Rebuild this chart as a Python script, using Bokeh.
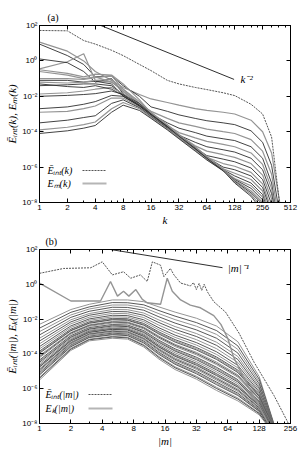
import numpy as np
from bokeh.plotting import figure
from bokeh.layouts import column
from bokeh.models import Range1d, FixedTicker, CustomJSTickFormatter, Label, Arrow, LogAxis
from bokeh.embed import file_html
from bokeh.resources import INLINE

# ---------------- Panel (a): spectra vs k (values are log10) ----------------
K_A = [1, 2, 3, 4, 6, 8, 12, 16, 24, 32, 48, 64, 96, 128, 192, 256, 320, 400, 512]
EINT_A = [1.72, 1.7, 1.15, 0.95, 0.6, 0.3, -0.2, -0.55, -1.1, -1.3, -1.5, -1.62, -1.8, -1.96, -2.45, -3.0, -4.3, -8.5, -10]
EM_A_01 = [1.06, 0.55, 0.0, -0.6, -1.1, -1.5, -1.9, -2.15, -2.35, -2.5, -2.7, -2.8, -2.9, -3.0, -3.35, -4.0, -5.2, -8.3, -10]
EM_A_02 = [0.95, 0.3, -0.2, -0.9, -0.85, -1.4, -2.0, -2.6, -2.85, -3.05, -3.25, -3.38, -3.5, -3.6, -3.95, -4.6, -5.9, -9.0, -10]
EM_A_03 = [-0.45, -0.05, 0.4, -1.1, -1.2, -1.7, -2.45, -2.85, -3.25, -3.5, -3.7, -3.85, -4.0, -4.1, -4.45, -5.1, -6.4, -9.5, -10]
EM_A_04 = [0.11, -0.1, -0.6, -1.2, -1.0, -1.85, -2.5, -3.0, -3.5, -3.8, -4.05, -4.25, -4.4, -4.5, -4.85, -5.5, -6.9, -10, -10]
EM_A_05 = [-1.0, -1.0, -1.05, -0.95, -0.85, -1.6, -2.4, -3.0, -3.65, -4.05, -4.35, -4.55, -4.72, -4.85, -5.2, -5.85, -7.2, -10, -10]
EM_A_06 = [-1.1, -1.1, -1.2, -1.15, -1.3, -2.0, -2.55, -3.05, -3.7, -4.2, -4.6, -4.85, -5.02, -5.15, -5.5, -6.15, -7.5, -10, -10]
EM_A_07 = [-1.2, -1.25, -1.2, -1.1, -1.05, -1.75, -2.45, -2.95, -3.65, -4.2, -4.8, -5.1, -5.3, -5.45, -5.8, -6.45, -7.8, -10, -10]
EM_A_08 = [-1.4, -1.35, -1.3, -1.3, -1.4, -1.9, -2.4, -3.0, -3.7, -4.2, -4.9, -5.35, -5.55, -5.7, -6.05, -6.7, -8.1, -10, -10]
EM_A_09 = [-1.87, -1.8, -1.7, -1.6, -1.5, -1.85, -2.5, -3.05, -3.75, -4.25, -4.95, -5.45, -5.8, -5.95, -6.3, -6.95, -8.4, -10, -10]
EM_A_10 = [-2.7, -2.6, -2.45, -2.3, -1.95, -2.0, -2.55, -3.1, -3.75, -4.3, -4.95, -5.45, -6.0, -6.15, -6.5, -7.15, -8.6, -10, -10]
EM_A_11 = [-2.9, -2.85, -2.7, -2.55, -2.1, -2.1, -2.6, -3.1, -3.8, -4.3, -5.0, -5.5, -6.1, -6.35, -6.7, -7.35, -8.9, -10, -10]
EM_A_12 = [-3.5, -3.35, -3.2, -3.1, -2.4, -2.2, -2.65, -3.15, -3.8, -4.35, -5.0, -5.5, -6.15, -6.5, -6.9, -7.55, -9.2, -10, -10]
EM_A_13 = [-3.9, -3.75, -3.6, -3.45, -2.7, -2.35, -2.7, -3.2, -3.85, -4.35, -5.05, -5.55, -6.2, -6.65, -7.05, -7.7, -9.5, -10, -10]
EM_A_14 = [-4.1, -3.95, -3.8, -3.65, -2.9, -2.5, -2.8, -3.25, -3.9, -4.4, -5.1, -5.6, -6.2, -6.7, -7.2, -7.85, -9.8, -10, -10]
EM_A_15 = [-0.6, -0.8, -1.0, -0.9, -1.2, -1.6, -2.3, -2.9, -3.6, -4.15, -4.85, -5.4, -6.1, -6.75, -7.35, -8.0, -10, -10, -10]
EM_A_16 = [-1.3, -1.45, -1.5, -1.4, -1.6, -1.95, -2.55, -3.05, -3.7, -4.2, -4.9, -5.45, -6.15, -6.8, -7.45, -8.1, -10, -10, -10]
EM_A_17 = [-0.5, -0.7, -0.9, -0.75, -0.8, -1.3, -2.2, -2.95, -3.65, -4.2, -4.9, -5.45, -6.15, -6.85, -7.55, -8.3, -10, -10, -10]
EM_A_18 = [-2.0, -1.95, -1.9, -1.85, -1.7, -1.9, -2.5, -3.0, -3.7, -4.25, -4.95, -5.5, -6.2, -6.9, -7.65, -8.5, -10, -10, -10]
REF_A_K = [4.6, 126]
REF_A_E = [100, 0.09]

# ---------------- Panel (b): spectra vs |m| (values are log10) ----------------
TOP_B_M = [1, 1.7, 3.1, 4, 5, 6.4, 7.5, 9.3, 10.8, 12.1, 14.5, 15.6, 18, 19.5, 22.6, 26, 28, 30, 32, 34, 36, 38, 41, 47, 61, 82, 115, 178, 240, 300]
TOP_B = [0.63, 0.91, 0.95, 1.29, 0.54, 0.72, 0.35, 0.54, 0.16, 1.29, 1.1, 0.44, 0.91, 0.54, 0.07, -0.03, -0.1, 0.1, -0.3, 0.05, -0.35, 0.0, -0.45, -1.0, -1.6, -2.8, -4.5, -6.4, -7.9, -9.5]
SEC_B_M = [1, 2, 3.85, 4.8, 5.6, 6.4, 7.2, 8.4, 9.7, 10.8, 14.5, 16.8, 18.8, 22.6, 28, 35, 47, 55, 64, 73, 85, 110, 154, 200]
SEC_B = [0.07, -0.96, -0.96, 0.16, -0.68, -0.4, -0.68, -0.3, -0.87, -1.06, -1.15, 0.35, -0.4, -0.9, -1.2, -1.35, -1.8, -2.3, -3.1, -4.2, -5.0, -6.3, -7.9, -9.5]
M_F = [1, 2, 3, 5, 7, 10, 14, 20, 32, 50, 80, 128, 200]
FAM_B_01 = [-2.30, -1.45, -1.15, -0.90, -0.90, -1.00, -1.30, -1.60, -1.95, -2.40, -3.30, -5.30, -9.0]
FAM_B_02 = [-2.52, -1.61, -1.30, -1.05, -1.06, -1.18, -1.51, -1.83, -2.20, -2.66, -3.54, -5.45, -9.0]
FAM_B_03 = [-2.72, -1.76, -1.42, -1.19, -1.19, -1.34, -1.69, -2.03, -2.41, -2.88, -3.74, -5.59, -9.0]
FAM_B_04 = [-2.91, -1.90, -1.55, -1.32, -1.33, -1.49, -1.87, -2.23, -2.62, -3.10, -3.95, -5.72, -9.0]
FAM_B_05 = [-3.10, -2.04, -1.68, -1.45, -1.46, -1.65, -2.05, -2.43, -2.83, -3.33, -4.15, -5.85, -9.0]
FAM_B_06 = [-3.26, -2.16, -1.78, -1.56, -1.58, -1.78, -2.20, -2.59, -3.00, -3.51, -4.32, -5.96, -9.0]
FAM_B_07 = [-3.42, -2.27, -1.89, -1.67, -1.69, -1.91, -2.35, -2.76, -3.18, -3.70, -4.49, -6.07, -9.0]
FAM_B_08 = [-3.58, -2.39, -1.99, -1.78, -1.80, -2.04, -2.50, -2.92, -3.35, -3.88, -4.66, -6.18, -9.0]
FAM_B_09 = [-3.71, -2.48, -2.07, -1.87, -1.89, -2.14, -2.62, -3.05, -3.49, -4.03, -4.80, -6.27, -9.0]
FAM_B_10 = [-3.84, -2.58, -2.16, -1.96, -1.98, -2.25, -2.74, -3.18, -3.63, -4.18, -4.93, -6.36, -9.0]
FAM_B_11 = [-3.96, -2.67, -2.24, -2.04, -2.07, -2.35, -2.86, -3.32, -3.77, -4.32, -5.07, -6.44, -9.0]
FAM_B_12 = [-4.09, -2.77, -2.33, -2.13, -2.16, -2.46, -2.98, -3.45, -3.91, -4.47, -5.20, -6.53, -9.0]
FAM_B_13 = [-4.22, -2.86, -2.41, -2.22, -2.25, -2.56, -3.10, -3.58, -4.05, -4.62, -5.34, -6.62, -9.0]
FAM_B_14 = [-4.35, -2.95, -2.49, -2.31, -2.34, -2.66, -3.22, -3.71, -4.19, -4.77, -5.48, -6.71, -9.0]
FAM_B_15 = [-4.48, -3.05, -2.58, -2.40, -2.43, -2.77, -3.34, -3.84, -4.33, -4.92, -5.61, -6.80, -9.0]
FAM_B_16 = [-4.57, -3.12, -2.64, -2.46, -2.50, -2.85, -3.43, -3.94, -4.44, -5.03, -5.71, -6.86, -9.0]
FAM_B_17 = [-4.67, -3.19, -2.70, -2.53, -2.57, -2.92, -3.52, -4.04, -4.54, -5.14, -5.82, -6.93, -9.0]
FAM_B_18 = [-4.76, -3.26, -2.77, -2.59, -2.63, -3.00, -3.61, -4.14, -4.65, -5.25, -5.92, -6.99, -9.0]
FAM_B_19 = [-4.86, -3.33, -2.83, -2.66, -2.70, -3.08, -3.70, -4.24, -4.75, -5.36, -6.02, -7.06, -9.0]
FAM_B_20 = [-4.99, -3.42, -2.91, -2.75, -2.79, -3.18, -3.82, -4.37, -4.89, -5.51, -6.16, -7.15, -9.0]
FAM_B_21 = [-5.08, -3.49, -2.98, -2.81, -2.86, -3.26, -3.91, -4.47, -5.00, -5.62, -6.26, -7.21, -9.0]
FAM_B_22 = [-5.21, -3.59, -3.06, -2.90, -2.95, -3.37, -4.03, -4.60, -5.14, -5.77, -6.39, -7.30, -9.0]
FAM_B_23 = [-5.34, -3.68, -3.15, -2.99, -3.04, -3.47, -4.15, -4.74, -5.28, -5.92, -6.53, -7.39, -9.0]
FAM_B_24 = [-5.50, -3.80, -3.25, -3.10, -3.15, -3.60, -4.30, -4.90, -5.45, -6.10, -6.70, -7.50, -9.0]
FAM_B_25 = [-3.90, -2.63, -2.20, -2.00, -2.03, -2.30, -2.80, -3.25, -3.70, -4.25, -5.00, -6.40, -9.0]
FAM_B_26 = [-4.16, -2.81, -2.37, -2.18, -2.21, -2.51, -3.04, -3.51, -3.98, -4.55, -5.27, -6.58, -9.0]
FAM_B_27 = [-4.41, -3.00, -2.54, -2.35, -2.39, -2.72, -3.28, -3.78, -4.26, -4.84, -5.54, -6.75, -9.0]
FAM_B_28 = [-4.72, -3.22, -2.74, -2.56, -2.60, -2.96, -3.57, -4.09, -4.59, -5.19, -5.87, -6.96, -9.0]
FAM_B_29 = [-4.92, -3.38, -2.87, -2.70, -2.75, -3.13, -3.76, -4.31, -4.82, -5.43, -6.09, -7.10, -9.0]
FAM_B_30 = [-5.15, -3.54, -3.02, -2.86, -2.90, -3.31, -3.97, -4.54, -5.07, -5.69, -6.33, -7.26, -9.0]
FAM_B_31 = [-5.40, -3.73, -3.19, -3.03, -3.08, -3.52, -4.21, -4.80, -5.35, -5.99, -6.60, -7.43, -9.0]
REF_B_M = [4.8, 57]
REF_B_E = [100, 9.0]

# tick values
X_TICKS_A = [1, 2, 4, 8, 16, 32, 64, 128, 256, 512]
X_MINOR_A = [3, 5, 6, 7, 10, 12, 14, 20, 24, 28, 40, 48, 56, 80, 96, 112, 160, 192, 224, 320, 384, 448]
X_TICKS_B = [1, 2, 4, 8, 16, 32, 64, 128, 256]
X_MINOR_B = [3, 5, 6, 7, 10, 12, 14, 20, 24, 28, 40, 48, 56, 80, 96, 112, 160, 192, 224]
Y_TICKS = [1e-8, 1e-6, 1e-4, 1e-2, 1, 1e2]

EM_A = [EM_A_01, EM_A_02, EM_A_03, EM_A_04, EM_A_05, EM_A_06, EM_A_07, EM_A_08, EM_A_09,
        EM_A_10, EM_A_11, EM_A_12, EM_A_13, EM_A_14, EM_A_15, EM_A_16, EM_A_17, EM_A_18]
FAM_B = [FAM_B_01, FAM_B_02, FAM_B_03, FAM_B_04, FAM_B_05, FAM_B_06, FAM_B_07, FAM_B_08,
         FAM_B_09, FAM_B_10, FAM_B_25, FAM_B_11, FAM_B_12, FAM_B_26, FAM_B_13, FAM_B_14,
         FAM_B_27, FAM_B_15, FAM_B_16, FAM_B_17, FAM_B_28, FAM_B_18, FAM_B_19, FAM_B_29,
         FAM_B_20, FAM_B_21, FAM_B_30, FAM_B_22, FAM_B_23, FAM_B_31, FAM_B_24]

DARK = "#2e2e2e"
GREY = "#949494"
SERIF = "Liberation Serif"
SANS = "Liberation Sans"

YFMT = CustomJSTickFormatter(code="""
const e = Math.round(Math.log10(tick));
const m = {"-":"\u207b","0":"\u2070","1":"\u00b9","2":"\u00b2","3":"\u00b3","4":"\u2074",
           "5":"\u2075","6":"\u2076","7":"\u2077","8":"\u2078","9":"\u2079"};
return "10" + String(e).split("").map(c => m[c]).join("");
""")
XFMT = CustomJSTickFormatter(code="return String(Math.round(tick));")
NOFMT = CustomJSTickFormatter(code="return '';")


def lg(v):
    return [10.0 ** x for x in v]


def make_fig(height, xmax, xticks, xminor, top, bottom, xlabel, ylabel, title, toff):
    p = figure(width=298, height=height, x_axis_type="log", y_axis_type="log",
               x_range=Range1d(1, xmax), y_range=Range1d(1e-8, 1e2),
               output_backend="svg", toolbar_location=None,
               min_border_left=39, min_border_right=8, min_border_top=top,
               min_border_bottom=bottom, title=title)
    p.title.align = "left"
    p.title.offset = toff
    p.title.text_font = SERIF
    p.title.text_font_size = "10px"
    p.title.text_font_style = "normal"
    p.title.text_color = "black"
    p.title.standoff = 5
    p.grid.visible = False
    p.outline_line_color = "black"
    p.background_fill_color = "white"
    p.border_fill_color = "white"
    p.xaxis.ticker = FixedTicker(ticks=xticks, minor_ticks=xminor)
    p.yaxis.ticker = FixedTicker(ticks=Y_TICKS, minor_ticks=[])
    p.xaxis.formatter = XFMT
    p.yaxis.formatter = YFMT
    for ax in list(p.xaxis) + list(p.yaxis):
        ax.major_tick_in = 4
        ax.major_tick_out = 0
        ax.minor_tick_in = 2
        ax.minor_tick_out = 0
        ax.axis_line_color = "black"
        ax.major_label_text_font = SANS
        ax.major_label_text_font_size = "8px"
        ax.major_label_text_color = "black"
        ax.major_label_standoff = 2
        ax.axis_label_text_font = SERIF
        ax.axis_label_text_font_size = "11px"
        ax.axis_label_text_font_style = "italic"
        ax.axis_label_text_color = "black"
        ax.axis_label_standoff = 1
    p.xaxis.axis_label = xlabel
    p.yaxis.axis_label = ylabel
    right = LogAxis(ticker=FixedTicker(ticks=Y_TICKS, minor_ticks=[]), formatter=NOFMT,
                    major_tick_in=4, major_tick_out=0, minor_tick_in=0, minor_tick_out=0,
                    major_label_standoff=0, axis_line_color="black")
    p.add_layout(right, "right")
    topax = LogAxis(ticker=FixedTicker(ticks=xticks, minor_ticks=xminor), formatter=NOFMT,
                    major_tick_in=4, major_tick_out=0, minor_tick_in=2, minor_tick_out=0,
                    major_label_standoff=0, axis_line_color="black")
    p.add_layout(topax, "above")
    return p


def add_legend(p, x, y1, y2, t1, t2, lx0, lx1):
    p.add_layout(Label(x=x, y=y1, x_units="screen", y_units="screen", text=t1,
                       text_font=SERIF, text_font_size="10px", text_baseline="middle",
                       text_font_style="italic", text_color="black"))
    p.add_layout(Label(x=x, y=y2, x_units="screen", y_units="screen", text=t2,
                       text_font=SERIF, text_font_size="10px", text_baseline="middle",
                       text_font_style="italic", text_color="black"))
    p.add_layout(Arrow(end=None, x_start=lx0, y_start=y1, x_end=lx1, y_end=y1,
                       start_units="screen", end_units="screen",
                       line_color="#555555", line_width=1, line_dash="2 1"))
    p.add_layout(Arrow(end=None, x_start=lx0, y_start=y2, x_end=lx1, y_end=y2,
                       start_units="screen", end_units="screen",
                       line_color="#b5b5b5", line_width=2))


# ---- panel (a)
pa = make_fig(228, 512, X_TICKS_A, X_MINOR_A, 25, 26, "k",
              "\u0112\u1d62\u2099\u209c(k), E\u2098(k)", "(a)", 8)
for i, arr in enumerate(EM_A):
    pa.line(K_A, lg(arr), line_color=DARK if i % 2 else GREY,
            line_width=0.9 if i % 2 else 1.2)
pa.line(K_A, lg(EINT_A), line_color="#555555", line_width=1, line_dash="2 1")
pa.line(REF_A_K, REF_A_E, line_color=DARK, line_width=1)
pa.add_layout(Label(x=148, y=0.09, text="k\u207b\u00b2", text_font=SERIF,
                    text_font_size="11px", text_font_style="italic", text_baseline="middle",
                    text_color="black"))
add_legend(pa, 8, 32, 19, "\u0112\u1d62\u2099\u209c(k)", "E\u2098(k)", 43, 67)

# ---- panel (b)
pb = make_fig(221, 256, X_TICKS_B, X_MINOR_B, 21, 22, "|m|",
              "\u0112\u1d62\u2099\u209c(|m|), E\u2096(|m|)", "(b)", 6)
for i, arr in enumerate(FAM_B):
    pb.line(M_F, lg(arr), line_color=DARK if i % 2 else GREY,
            line_width=0.8 if i % 2 else 1.0)
pb.line(SEC_B_M, lg(SEC_B), line_color=GREY, line_width=1.4)
pb.line(TOP_B_M, lg(TOP_B), line_color="#555555", line_width=1, line_dash="2 1")
pb.line(REF_B_M, REF_B_E, line_color=DARK, line_width=1)
pb.add_layout(Label(x=64, y=8.5, text="|m|\u207b\u00b9", text_font=SERIF,
                    text_font_size="11px", text_font_style="italic", text_baseline="middle",
                    text_color="black"))
add_legend(pb, 6, 29, 15, "\u0112\u1d62\u2099\u209c(|m|)", "E\u2096(|m|)", 49, 73)

layout = column(pa, pb)
with open("out.html", "w", encoding="utf-8") as f:
    f.write(file_html(layout, INLINE))
